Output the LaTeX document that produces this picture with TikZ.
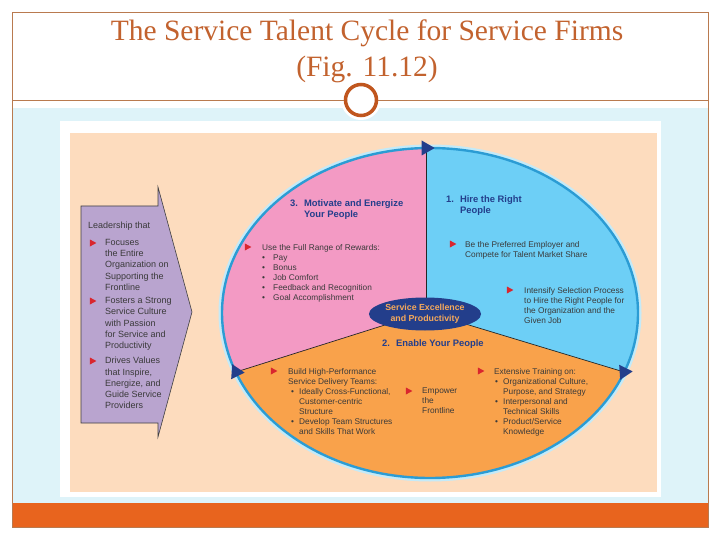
\documentclass[tikz,border=0pt]{standalone}
\usepackage{fontspec}
\setmainfont{Liberation Serif}
\setsansfont{Liberation Sans}
\usetikzlibrary{positioning, shapes.geometric, calc}

\definecolor{titlec}{HTML}{C2622E}
\definecolor{framec}{HTML}{B97A4F}
\definecolor{ringc}{HTML}{C0561E}
\definecolor{skyc}{HTML}{DEF3F9}
\definecolor{barc}{HTML}{E8641E}
\definecolor{peachc}{HTML}{FDDCBE}
\definecolor{pinkc}{HTML}{F39AC4}
\definecolor{bluec}{HTML}{6DCFF6}
\definecolor{orangec}{HTML}{F9A24B}
\definecolor{rimc}{HTML}{2B9CD4}
\definecolor{glowc}{HTML}{C4EAF8}
\definecolor{navyc}{HTML}{233E8B}
\definecolor{purplec}{HTML}{B9A4CF}
\definecolor{bulred}{HTML}{D9262E}
\definecolor{txtc}{HTML}{3A3A3A}
\definecolor{hubtxt}{HTML}{F6A95B}

\newcommand{\sbul}[1][9pt]{\makebox[#1][l]{\textbullet}}

\begin{document}
\begin{tikzpicture}[x=1pt, y=-1pt,
        txt/.style={font=\sffamily\fontsize{8.3}{10}\selectfont, text=txtc,
                    align=left, inner sep=0pt, anchor=north west},
        lbtxt/.style={txt, font=\sffamily\fontsize{9}{11.3}\selectfont},
        head/.style={font=\sffamily\bfseries\fontsize{9.4}{11}\selectfont,
                     text=navyc, inner sep=0pt, anchor=north west},
        redtri/.style={isosceles triangle, isosceles triangle stretches,
                       fill=bulred, inner sep=0pt, minimum width=7pt,
                       minimum height=6.5pt},
        headtri/.style={isosceles triangle, isosceles triangle stretches,
                        fill=navyc, inner sep=0pt, minimum width=15pt,
                        minimum height=13pt},
    ]
    \useasboundingbox (0,0) rectangle (720,540);

    % slide frame
    \fill[skyc] (12,108) rectangle (708,503);
    \fill[barc] (12,503) rectangle (708,527);
    \draw[framec, line width=0.8pt] (12,12) rectangle (708,527);
    \node[circle, minimum size=31pt, fill=white, draw=ringc, line width=3.5pt,
          preaction={draw=white, line width=9pt}] (ring) at (361,100) {};
    \draw[framec, line width=0.8pt] (12,100) -- (ring.west);
    \draw[framec, line width=0.8pt] (ring.east) -- (708,100);
    \node[font=\fontsize{29.5}{36}\selectfont, text=titlec, align=center] (title)
        at (367,51) {The Service Talent Cycle for Service Firms\\(Fig. 11.12)};

    % figure panel
    \fill[white] (60,121) rectangle (661,497);
    \fill[peachc] (70,133) rectangle (657,492);

    % cycle
    \coordinate (c)      at (426,312);
    \coordinate (ptop)   at (426,148);
    \coordinate (pleft)  at (236,372);
    \coordinate (pright) at (624,372);
    \draw[glowc, line width=7pt] (430,313) ellipse [x radius=208pt, y radius=165pt];
    \fill[orangec] (430,313) ellipse [x radius=208pt, y radius=165pt];
    \begin{scope}
        \clip (430,313) ellipse [x radius=208pt, y radius=165pt];
        \fill[pinkc] (c) -- ($(c)!1.3!(pleft)$) -- (190,140) -- (426,140) -- cycle;
        \fill[bluec] (c) -- (426,140) -- (660,140) -- ($(c)!1.3!(pright)$) -- cycle;
    \end{scope}
    \draw[rimc, line width=2.4pt] (430,313) ellipse [x radius=208pt, y radius=165pt];
    \draw[black!85, line width=0.7pt] (c) -- (ptop);
    \draw[black!85, line width=0.7pt] (c) -- (pleft);
    \draw[black!85, line width=0.7pt] (c) -- (pright);
    \node[headtri] (atop) at (ptop) {};
    \node[headtri, rotate=244] (aright) at (pright) {};
    \node[headtri, rotate=116] (aleft) at (pleft) {};
    \node[ellipse, fill=navyc, minimum width=104pt, minimum height=33pt,
          inner sep=0pt, text=hubtxt, align=center,
          font=\sffamily\bfseries\fontsize{8.8}{11}\selectfont] (hub) at (425,314)
        {Service Excellence\\and Productivity};

    % leadership arrow
    \draw[fill=purplec, draw=black!75, line width=0.6pt]
        (81,206) -- (158,206) -- (158,187) -- (192,312) -- (158,437)
        -- (158,423) -- (81,423) -- cycle;
    \node[lbtxt] (lead) at (88,222) {Leadership that};
    \node[redtri] (l1) at (92,243) {};
    \node[lbtxt] (focus) at (105,239)
        {Focuses\\the Entire\\Organization on\\Supporting the\\Frontline};
    \node[redtri] (l2) at (92,301) {};
    \node[lbtxt] (foster) at (105,297)
        {Fosters a Strong\\Service Culture\\with Passion\\for Service and\\Productivity};
    \node[redtri] (l3) at (92,361) {};
    \node[lbtxt] (drive) at (105,357)
        {Drives Values\\that Inspire,\\Energize, and\\Guide Service\\Providers};

    % headings
    \node[head] (h3) at (290,199)
        {\begin{tabular}{@{}l@{\hspace{6pt}}l@{}}3. & Motivate and Energize\\ & Your People\end{tabular}};
    \node[head] (h1) at (446,195)
        {\begin{tabular}{@{}l@{\hspace{6pt}}l@{}}1. & Hire the Right\\ & People\end{tabular}};
    \node[head] (h2) at (382,339)
        {\begin{tabular}{@{}l@{\hspace{6pt}}l@{}}2. & Enable Your People\end{tabular}};

    % motivate
    \node[redtri] (m1) at (247,247) {};
    \node[txt] (reward) at (262,244)
        {Use the Full Range of Rewards:\\\sbul[11pt]Pay\\\sbul[11pt]Bonus\\\sbul[11pt]Job Comfort\\
         \sbul[11pt]Feedback and Recognition\\\sbul[11pt]Goal Accomplishment};

    % hire
    \node[redtri] (r1) at (452,244) {};
    \node[txt] (prefer) at (465,241)
        {Be the Preferred Employer and\\Compete for Talent Market Share};
    \node[redtri] (r2) at (509,290) {};
    \node[txt] (select) at (524,287)
        {Intensify Selection Process\\to Hire the Right People for\\the Organization and the\\Given Job};

    % enable
    \node[redtri] (e1) at (273,371) {};
    \node[txt] (teams) at (288,368)
        {Build High-Performance\\Service Delivery Teams:\\
         \hspace*{3pt}\sbul[8pt]Ideally Cross-Functional,\\\hspace*{11pt}Customer-centric\\
         \hspace*{11pt}Structure\\\hspace*{3pt}\sbul[8pt]Develop Team Structures\\
         \hspace*{11pt}and Skills That Work};
    \node[redtri] (e2) at (408,391) {};
    \node[txt] (empower) at (422,388) {Empower\\the\\Frontline};
    \node[redtri] (e3) at (480,371) {};
    \node[txt] (train) at (494,368)
        {Extensive Training on:\\
         \hspace*{1pt}\sbul[8pt]Organizational Culture,\\\hspace*{9pt}Purpose, and Strategy\\
         \hspace*{1pt}\sbul[8pt]Interpersonal and\\\hspace*{9pt}Technical Skills\\
         \hspace*{1pt}\sbul[8pt]Product/Service\\\hspace*{9pt}Knowledge};
\end{tikzpicture}
\end{document}
